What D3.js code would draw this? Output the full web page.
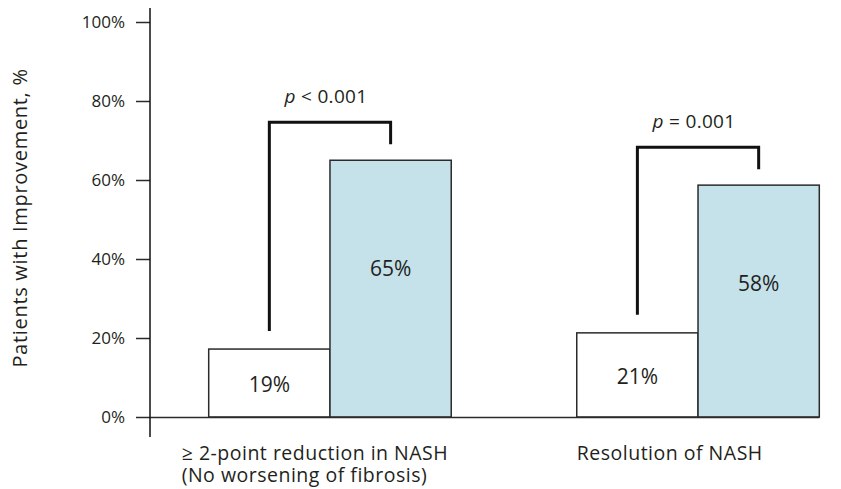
<!DOCTYPE html>
<html lang="en">
<head>
    <meta charset="UTF-8" />
    <title>Patients with Improvement</title>
    <script src="https://d3js.org/d3.v7.min.js"></script>
    <style>
        body {
            margin: 0;
            background-color: #fff;
        }
        text {
            fill: #231f20;
            font-family: 'Open Sans', sans-serif;
        }
        .bar {
            stroke: #2b2b2b;
            stroke-width: 1.5px;
        }
        .bracket {
            fill: none;
            stroke: #111;
            stroke-width: 3px;
        }
    </style>
</head>
<body>
    <svg id="chart"></svg>

    <script>
        // Data
        const categories = ["≥ 2-point reduction in NASH|(No worsening of fibrosis)", "Resolution of NASH"];
        const series = ["Placebo", "Treatment"];
        const placeboValues = [17.2, 21.3];
        const treatmentValues = [65, 58.7];
        const placeboLabels = ["19%", "21%"];
        const treatmentLabels = ["65%", "58%"];
        const pLabels = [{ sign: "<", val: "0.001" }, { sign: "=", val: "0.001" }];
        const yTicks = [0, 20, 40, 60, 80, 100];

        const colors = { Placebo: "#ffffff", Treatment: "#c5e1ea" };

        const W = 841, H = 489;
        const axisX = 150;
        const y0 = 417, yTop = 22;

        const svg = d3.select("#chart")
            .attr("width", W)
            .attr("height", H);

        const yScale = d3.scaleLinear()
            .domain([0, 100])
            .range([y0, yTop]);

        const x0 = d3.scaleBand()
            .domain(categories)
            .range([208.7, 819.3])
            .paddingInner(0.341)
            .paddingOuter(0);

        const x1 = d3.scaleBand()
            .domain(series)
            .range([0, x0.bandwidth()]);

        const groups = categories.map((c, i) => ({
            cat: c,
            bars: [
                { s: "Placebo", v: placeboValues[i], label: placeboLabels[i] },
                { s: "Treatment", v: treatmentValues[i], label: treatmentLabels[i] }
            ],
            p: pLabels[i]
        }));

        // Bars
        const g = svg.selectAll(".group")
            .data(groups)
            .enter()
            .append("g")
            .attr("class", "group")
            .attr("transform", d => "translate(" + x0(d.cat) + ",0)");

        g.selectAll("rect")
            .data(d => d.bars)
            .enter()
            .append("rect")
            .attr("class", "bar")
            .attr("x", d => x1(d.s))
            .attr("y", d => yScale(d.v))
            .attr("width", x1.bandwidth())
            .attr("height", d => y0 - yScale(d.v))
            .attr("fill", d => colors[d.s]);

        // Value labels inside bars
        g.selectAll(".val")
            .data(d => d.bars)
            .enter()
            .append("text")
            .attr("class", "val")
            .attr("x", d => x1(d.s) + x1.bandwidth() / 2)
            .attr("y", d => {
                const top = yScale(d.v);
                return d.s === "Placebo" ? (top + y0) / 2 + 1 : top + (y0 - top) * 0.42;
            })
            .attr("text-anchor", "middle")
            .attr("dominant-baseline", "central")
            .style("font-size", "21px")
            .text(d => d.label);

        // Significance brackets
        g.each(function (d) {
            const sel = d3.select(this);
            const xl = x1("Placebo") + x1.bandwidth() / 2;
            const xr = x1("Treatment") + x1.bandwidth() / 2;
            const topT = yScale(d.bars[1].v);
            const topP = yScale(d.bars[0].v);
            const yb = topT - 38;
            sel.append("path")
                .attr("class", "bracket")
                .attr("d", d3.line()([[xl, topP - 18], [xl, yb], [xr, yb], [xr, topT - 16]]));
            const t = sel.append("text")
                .attr("x", (xl + xr) / 2 - 4)
                .attr("y", yb - 19)
                .attr("text-anchor", "middle")
                .style("font-size", "19px")
                .style("letter-spacing", "0.3px");
            t.append("tspan").style("font-style", "italic").text("p");
            t.append("tspan").text(" " + d.p.sign + " " + d.p.val);
        });

        // Y axis
        const yAxis = d3.axisLeft(yScale)
            .tickValues(yTicks)
            .tickSize(14)
            .tickPadding(11)
            .tickFormat(d => d + "%");

        const ax = svg.append("g")
            .attr("transform", "translate(" + axisX + ",0)")
            .call(yAxis);

        ax.attr("font-family", null).attr("font-size", null);
        ax.select(".domain").remove();
        ax.selectAll(".tick line").attr("stroke", "#2b2b2b").attr("stroke-width", 1.5);
        ax.selectAll(".tick text")
            .attr("fill", "#231f20")
            .style("font-family", "'Open Sans', sans-serif")
            .style("font-size", "17px");
        // baseline runs under the bars
        ax.selectAll(".tick").filter(d => d === 0).select("line")
            .attr("x1", -14)
            .attr("x2", x0.range()[1] - axisX);

        svg.append("line")
            .attr("x1", axisX).attr("x2", axisX)
            .attr("y1", 8).attr("y2", 437)
            .attr("stroke", "#111")
            .attr("stroke-width", 1.5);

        // Y axis title
        svg.append("text")
            .attr("transform", "translate(27,218) rotate(-90)")
            .attr("text-anchor", "middle")
            .style("font-size", "20px")
            .style("letter-spacing", "0.7px")
            .text("Patients with Improvement, %");

        // Category labels, one text per line
        categories.forEach((c, i) => {
            c.split("|").forEach((line, j) => {
                svg.append("text")
                    .attr("class", "cat")
                    .attr("x", x0(c) + (i === 0 ? -27 : 0))
                    .attr("y", 460 + j * 22)
                    .style("font-size", "19.5px")
                    .style("letter-spacing", "0.5px")
                    .text(line);
            });
        });
    </script>
</body>
</html>
